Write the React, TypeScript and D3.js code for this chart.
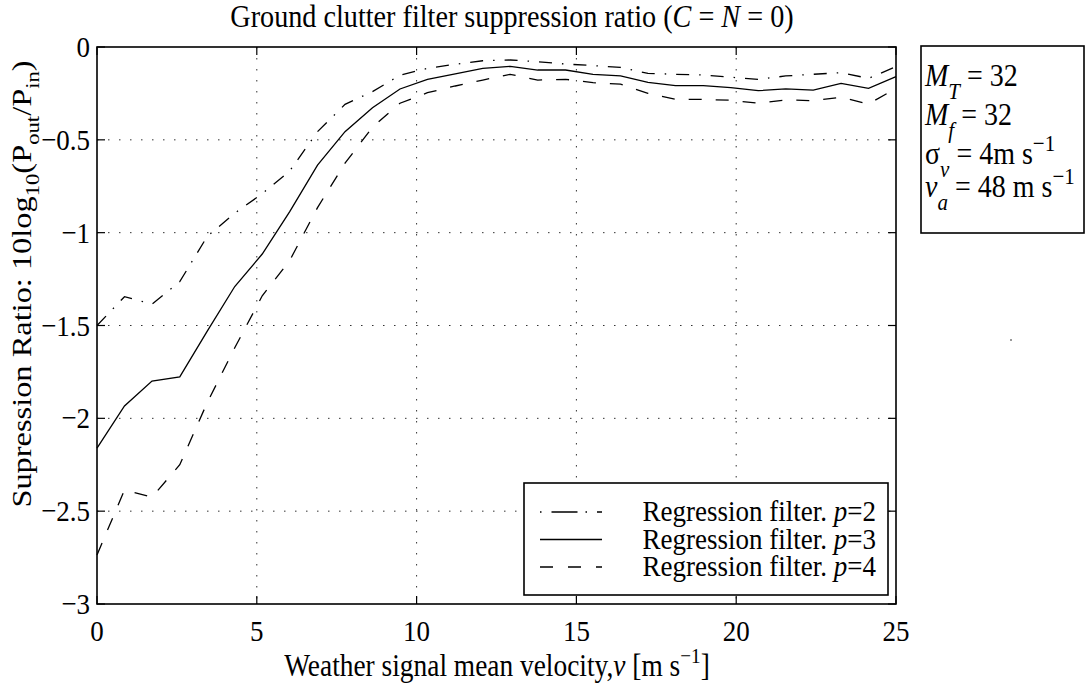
import React, { useEffect, useRef } from 'react'
import * as d3 from 'd3'

// weather signal mean velocity (m/s), sampled points
const velocity = [0, 0.86, 1.72, 2.59, 3.45, 4.31, 5.17, 6.03, 6.9, 7.76, 8.62, 9.48, 10.34, 11.21, 12.07,
  12.93, 13.79, 14.66, 15.52, 16.38, 17.24, 18.1, 18.97, 19.83, 20.69, 21.55, 22.41, 23.28, 24.14, 25]

// suppression ratio, 10log10(Pout/Pin)
const ratioP2 = [-1.5, -1.345, -1.385, -1.264, -1.02, -0.895, -0.79, -0.668, -0.456, -0.309, -0.24, -0.152, -0.115,
  -0.093, -0.074, -0.07, -0.079, -0.092, -0.1, -0.11, -0.142, -0.147, -0.151, -0.163, -0.174, -0.156, -0.147, -0.138,
  -0.169, -0.106]
const ratioP3 = [-2.161, -1.933, -1.799, -1.777, -1.53, -1.29, -1.115, -0.887, -0.636, -0.456, -0.327, -0.226, -0.174,
  -0.145, -0.115, -0.104, -0.124, -0.124, -0.147, -0.156, -0.19, -0.208, -0.208, -0.219, -0.235, -0.226, -0.232,
  -0.196, -0.223, -0.16]
const ratioP4 = [-2.736, -2.386, -2.425, -2.25, -1.915, -1.62, -1.34, -1.15, -0.865, -0.626, -0.432, -0.303, -0.246,
  -0.21, -0.178, -0.147, -0.178, -0.174, -0.192, -0.2, -0.25, -0.282, -0.282, -0.287, -0.303, -0.285, -0.289, -0.271,
  -0.307, -0.223]

const xTicks = [0, 5, 10, 15, 20, 25]
const yTicks = [0, -0.5, -1, -1.5, -2, -2.5, -3]
const legendLabels = ['2', '3', '4']

const FONT = '"Liberation Serif", "Times New Roman", serif'
const FS = 27
const K = 1.12 // the source figure is a bit taller than wide

type Part = { t: string; i?: boolean; s?: 'sub' | 'sup' }

function rich(text: any, parts: Part[], size: number, subShift = 0.3, subSize = 0.7) {
  let shift = 0
  parts.forEach(p => {
    const target = p.s === 'sub' ? size * subShift : p.s === 'sup' ? -size * 0.42 : 0
    text
      .append('tspan')
      .attr('dy', target - shift)
      .attr('font-size', p.s ? size * subSize : size)
      .attr('font-style', p.i ? 'italic' : 'normal')
      .text(p.t)
    shift = target
  })
}

export default function App() {
  const ref = useRef<SVGSVGElement>(null)

  useEffect(() => {
    const svg = d3.select(ref.current)
    svg.selectAll('*').remove()

    const left = 97, right = 896, top = 47, bottom = 604

    const x = d3.scaleLinear().domain([0, 25]).range([left, right])
    const y = d3.scaleLinear().domain([-3, 0]).range([bottom, top])

    var g = svg.append('g').attr('font-family', FONT).attr('fill', '#000')

    // dotted grid
    xTicks.slice(1, -1).forEach(v => {
      g.append('line')
        .attr('x1', x(v)).attr('x2', x(v)).attr('y1', top).attr('y2', bottom)
        .attr('stroke', '#333').attr('stroke-width', 1).attr('stroke-dasharray', '1.5,9.5')
    })
    yTicks.slice(1, -1).forEach(v => {
      g.append('line')
        .attr('x1', left).attr('x2', right).attr('y1', y(v)).attr('y2', y(v))
        .attr('stroke', '#333').attr('stroke-width', 1).attr('stroke-dasharray', '1.5,9.5')
    })

    // curves
    var series = [
      { values: ratioP2, dash: '13,10,1.5,10' },
      { values: ratioP3, dash: null },
      { values: ratioP4, dash: '13,14' }
    ]
    var line = d3.line<[number, number]>().x(d => x(d[0])).y(d => y(d[1]))
    series.forEach(s => {
      g.append('path')
        .attr('d', line(velocity.map((v, i) => [v, s.values[i]]) as [number, number][]))
        .attr('fill', 'none')
        .attr('stroke', '#000')
        .attr('stroke-width', 1.3)
        .attr('stroke-dasharray', s.dash)
    })

    // axis box and inward ticks
    g.append('rect')
      .attr('x', left).attr('y', top).attr('width', right - left).attr('height', bottom - top)
      .attr('fill', 'none').attr('stroke', '#000').attr('stroke-width', 1.6)
    xTicks.forEach(v => {
      g.append('line').attr('x1', x(v)).attr('x2', x(v)).attr('y1', bottom).attr('y2', bottom - 8)
        .attr('stroke', '#000').attr('stroke-width', 1.2)
      g.append('line').attr('x1', x(v)).attr('x2', x(v)).attr('y1', top).attr('y2', top + 8)
        .attr('stroke', '#000').attr('stroke-width', 1.2)
      g.append('g')
        .attr('transform', 'translate(' + x(v) + ',' + 641 + ') scale(1,' + K + ')')
        .append('text').attr('text-anchor', 'middle').attr('font-size', FS).text(v)
    })
    yTicks.forEach(v => {
      g.append('line').attr('x1', left).attr('x2', left + 8).attr('y1', y(v)).attr('y2', y(v))
        .attr('stroke', '#000').attr('stroke-width', 1.2)
      g.append('line').attr('x1', right).attr('x2', right - 8).attr('y1', y(v)).attr('y2', y(v))
        .attr('stroke', '#000').attr('stroke-width', 1.2)
      g.append('g')
        .attr('transform', 'translate(' + 90 + ',' + (y(v) + 10) + ') scale(1,' + K + ')')
        .append('text').attr('text-anchor', 'end').attr('font-size', FS).text(d3.format('')(v))
    })

    // title
    var title = g.append('g').attr('transform', 'translate(' + 512 + ',' + 27 + ') scale(1,' + K + ')')
      .append('text').attr('text-anchor', 'middle')
    rich(title, [
      { t: 'Ground clutter filter suppression ratio (' },
      { t: 'C', i: true },
      { t: ' = ' },
      { t: 'N', i: true },
      { t: ' = 0)' }
    ], 28.2)

    // x label
    var xl = g.append('g').attr('transform', 'translate(' + 497 + ',' + 676 + ') scale(1,' + K + ')')
      .append('text').attr('text-anchor', 'middle')
    rich(xl, [
      { t: 'Weather signal mean velocity,' },
      { t: 'v', i: true },
      { t: ' [m s' },
      { t: '\u22121', s: 'sup' },
      { t: ']' }
    ], 27.4)

    // y label
    var yl = g.append('g').attr('transform', 'translate(' + 31 + ',' + 284 + ') rotate(-90) scale(1.2,1)')
      .append('text').attr('text-anchor', 'middle')
    rich(yl, [
      { t: 'Supression Ratio: 10log' },
      { t: '10', s: 'sub' },
      { t: '(P' },
      { t: 'out', s: 'sub' },
      { t: '/P' },
      { t: 'in', s: 'sub' },
      { t: ')' }
    ], FS)

    // legend
    g.append('rect').attr('x', 524).attr('y', 483).attr('width', 364).attr('height', 112)
      .attr('fill', '#fff').attr('stroke', '#000').attr('stroke-width', 1.6)
    var legendDash = ['1.5,10,26,8', null, '13,15']
    legendLabels.forEach((p, i) => {
      var ly = 512 + i * 27.5
      g.append('line').attr('x1', 540).attr('x2', 602).attr('y1', ly).attr('y2', ly)
        .attr('stroke', '#000').attr('stroke-width', 1.3).attr('stroke-dasharray', legendDash[i])
      var t = g.append('g').attr('transform', 'translate(' + 876 + ',' + (ly + 9) + ') scale(1,' + K + ')')
        .append('text').attr('text-anchor', 'end')
      rich(t, [{ t: 'Regression filter. ' }, { t: 'p', i: true }, { t: '=' + p }], FS)
    })

    // parameter box
    g.append('rect').attr('x', 921).attr('y', 46).attr('width', 163).attr('height', 187)
      .attr('fill', '#fff').attr('stroke', '#000').attr('stroke-width', 1.6)
    var params: Part[][] = [
      [{ t: 'M', i: true }, { t: 'T', i: true, s: 'sub' }, { t: ' = 32' }],
      [{ t: 'M', i: true }, { t: 'f', i: true, s: 'sub' }, { t: ' = 32' }],
      [{ t: '\u03c3' }, { t: 'v', i: true, s: 'sub' }, { t: ' = 4m s' }, { t: '\u22121', s: 'sup' }],
      [{ t: 'v', i: true }, { t: 'a', i: true, s: 'sub' }, { t: ' = 48 m s' }, { t: '\u22121', s: 'sup' }]
    ]
    var baselines = [86, 125, 164, 197]
    params.forEach((parts, i) => {
      var t = g.append('g').attr('transform', 'translate(' + 925 + ',' + baselines[i] + ') scale(1,' + K + ')')
        .append('text')
      rich(t, parts, 28, 0.42, 0.75)
    })

    // stray speck in the source figure
    g.append('rect').attr('x', 1010).attr('y', 339).attr('width', 2).attr('height', 2).attr('fill', '#999')
  }, [])

  return (
    <svg
      ref={ref}
      width={1089}
      height={688}
      style={{ position: 'absolute', left: 0, top: 0, background: '#fff' }}
    />
  )
}
